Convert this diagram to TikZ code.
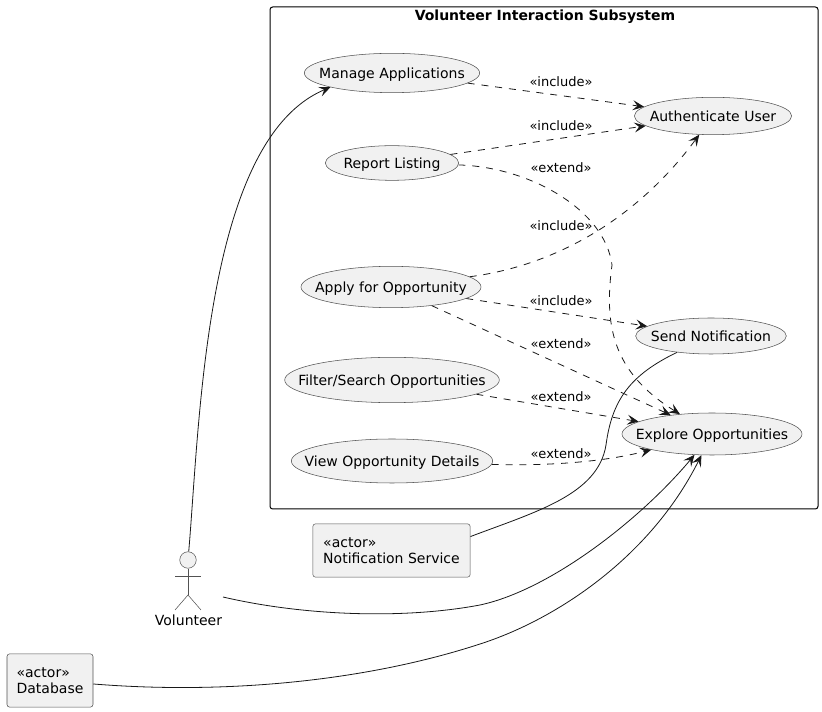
\documentclass[tikz,border=0pt]{standalone}
\usepackage{fontspec}
\setmainfont{DejaVu Sans}
\usetikzlibrary{shapes.geometric,arrows.meta}
\definecolor{umlfill}{HTML}{F1F1F1}
\definecolor{umlline}{HTML}{181818}
\tikzset{
	txt/.style={font=\fontsize{10.5}{12.2}\selectfont,text=black},
	lbl/.style={font=\fontsize{9.75}{11}\selectfont,text=black},
	usecase/.style={ellipse,draw=umlline!75,line width=0.4pt,fill=umlfill,txt,inner xsep=-30pt,inner ysep=-6pt,text height=10pt,text depth=2.4pt},
	extactor/.style={rectangle,rounded corners=2pt,draw=umlline!75,line width=0.4pt,fill=umlfill,txt,inner sep=0pt,align=left},
	rel/.style={line width=0.6pt,draw=umlline,-{Stealth[length=8.5pt,width=7.5pt,inset=3.5pt]}},
	dep/.style={rel,dash pattern=on 5.2pt off 5.2pt},
	link/.style={line width=0.6pt,draw=umlline}
}
\begin{document}
\begin{tikzpicture}[x=0.75pt,y=-0.75pt]
	\useasboundingbox (0,0) rectangle (822,712);
	% subsystem
	\node[draw=black,line width=0.75pt,rounded corners=2pt,minimum width=411pt,minimum height=376.5pt,inner sep=0pt] (subsystem) at (544,258) {};
	\node[txt,font=\fontsize{10.5}{12.2}\selectfont\bfseries] (subtitle) at (545,17) {Volunteer Interaction Subsystem};
	% use cases, left column
	\node[usecase,minimum width=131.5pt,minimum height=29.5pt] (manage) at (392,73) {Manage Applications};
	\node[usecase,minimum width=100pt,minimum height=26pt] (report) at (392,163) {Report Listing};
	\node[usecase,minimum width=135pt,minimum height=31pt] (apply) at (391,287) {Apply for Opportunity};
	\node[usecase,minimum width=161pt,minimum height=34pt] (filter) at (392,380) {Filter/Search Opportunities};
	\node[usecase,minimum width=151pt,minimum height=33pt] (details) at (392,461) {View Opportunity Details};
	% use cases, right column
	\node[usecase,minimum width=118pt,minimum height=28pt] (auth) at (713,116) {Authenticate User};
	\node[usecase,minimum width=113pt,minimum height=27pt] (notify) at (711,336) {Send Notification};
	\node[usecase,minimum width=135pt,minimum height=31.5pt] (explore) at (712,434) {Explore Opportunities};
	% actors
	\node[extactor,minimum width=118pt,minimum height=40pt] (service) at (391.5,550.5) {«actor»\\Notification Service};
	\node[extactor,minimum width=64.5pt,minimum height=40pt] (database) at (50,680.5) {«actor»\\Database};
	\node[circle,draw=umlline!75,line width=0.4pt,fill=umlfill,minimum size=12.4pt,inner sep=0pt] (volhead) at (188,560) {};
	\node[txt] (volunteer) at (188.5,620) {Volunteer};
	\coordinate (volhip) at (188,595);
	\coordinate (volout) at (223,597);
	\draw[umlline!75,line width=0.4pt] (volhead) -- (volhip);
	\draw[umlline!75,line width=0.4pt] (175,576) -- (201,576);
	\draw[umlline!75,line width=0.4pt] (175,610) -- (volhip) -- (201,610);
	% dependencies
	\draw[dep] (manage) -- (auth);
	\draw[dep] (report) -- (auth);
	\draw[dep] (report) .. controls (530,167) and (605,210) .. (612,265) .. controls (604,325) and (612,372) .. (explore);
	\draw[dep] (apply) .. controls (560,265) and (640,215) .. (auth);
	\draw[dep] (apply) -- (notify);
	\draw[dep] (apply) -- (explore);
	\draw[dep] (filter) -- (explore);
	\draw[dep] (details) .. controls (540,466) and (600,463) .. (explore);
	% labels
	\node[lbl] (lmanage) at (561,82) {«include»};
	\node[lbl] (lreport) at (561,126) {«include»};
	\node[lbl] (lreportext) at (561,168) {«extend»};
	\node[lbl] (lapplyauth) at (561,226) {«include»};
	\node[lbl] (lapplynote) at (561,301) {«include»};
	\node[lbl] (lapplyext) at (561,344) {«extend»};
	\node[lbl] (lfilter) at (561,397) {«extend»};
	\node[lbl] (ldetails) at (561,454) {«extend»};
	% actor links
	\draw[rel] (volhead) .. controls (200,420) and (205,140) .. (manage.193);
	\draw[rel] (volout) .. controls (300,615) and (400,620) .. (480,605) .. controls (550,590) and (640,520) .. (explore);
	\draw[rel] (database) .. controls (230,695) and (370,680) .. (480,644) .. controls (555,620) and (650,558) .. (explore);
	\draw[link] (service.10) .. controls (535,512) and (598,495) .. (606,445) .. controls (612,400) and (630,375) .. (notify);
\end{tikzpicture}
\end{document}
